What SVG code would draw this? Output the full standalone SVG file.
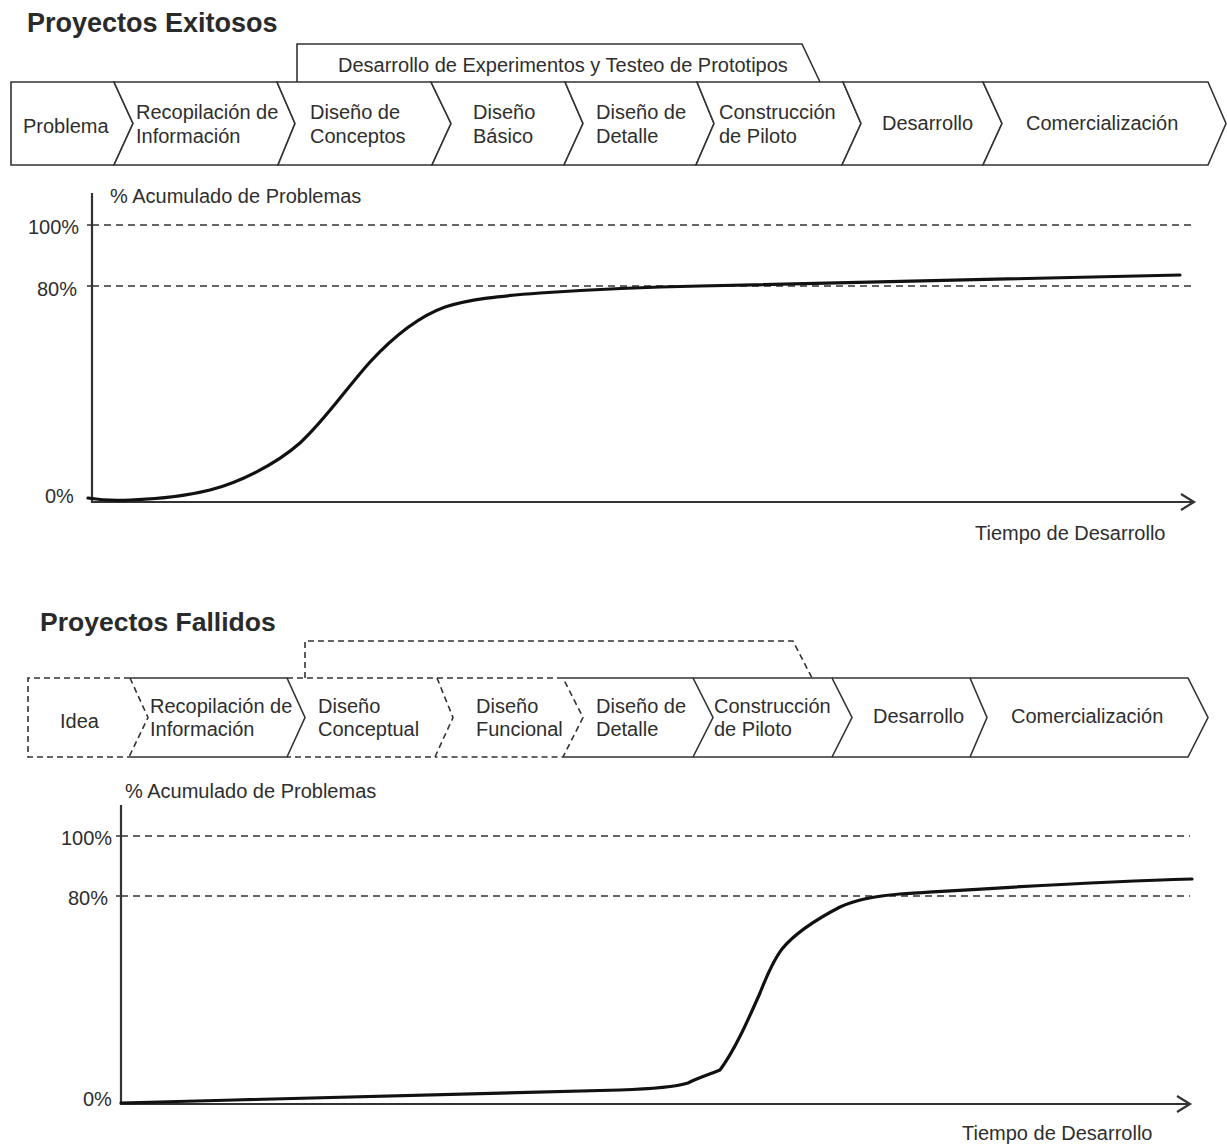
<svg xmlns="http://www.w3.org/2000/svg" width="1227" height="1145" viewBox="0 0 1227 1145">
  <style>
    text { font-family: "Liberation Sans", Arial, sans-serif; font-size: 20px; fill: #2e2e2e; }
    .title { font-size: 27px; font-weight: bold; fill: #2a2a2a; }
    .stage { fill: #fff; stroke: #333; stroke-width: 1.6; stroke-linejoin: miter; }
    .solid { fill: none; stroke: #333; stroke-width: 1.6; }
    .dash { fill: none; stroke: #333; stroke-width: 1.6; stroke-dasharray: 6 4; }
    .grid { fill: none; stroke: #333; stroke-width: 1.5; stroke-dasharray: 7 5; }
    .axis { fill: none; stroke: #333; stroke-width: 2.2; }
    .curve { fill: none; stroke: #111; stroke-width: 3.2; stroke-linecap: round; stroke-linejoin: round; }
  </style>
  <rect width="1227" height="1145" fill="#fff"/>

  <!-- ===== Successful projects ===== -->
  <text class="title" x="27" y="32">Proyectos Exitosos</text>

  <g id="tab-experimentos">
    <path class="solid" d="M297,82 L297,44 L802,44 L820,82"/>
    <text x="338" y="72">Desarrollo de Experimentos y Testeo de Prototipos</text>
  </g>

  <g id="top-problema">
    <path class="stage" d="M11,82 L114,82 L133,123.5 L114,165 L11,165 Z"/>
    <text x="23" y="133">Problema</text>
  </g>
  <g id="top-recopilacion">
    <path class="stage" d="M114,82 L277,82 L295,123.5 L278,165 L114,165 L133,123.5 Z"/>
    <text x="136" y="119">Recopilación de</text>
    <text x="136" y="143">Información</text>
  </g>
  <g id="top-conceptos">
    <path class="stage" d="M277,82 L431,82 L451,123.5 L432,165 L278,165 L295,123.5 Z"/>
    <text x="310" y="119">Diseño de</text>
    <text x="310" y="143">Conceptos</text>
  </g>
  <g id="top-basico">
    <path class="stage" d="M431,82 L565,82 L583,123.5 L564,165 L432,165 L451,123.5 Z"/>
    <text x="473" y="119">Diseño</text>
    <text x="473" y="143">Básico</text>
  </g>
  <g id="top-detalle">
    <path class="stage" d="M565,82 L697,82 L714,123.5 L696,165 L564,165 L583,123.5 Z"/>
    <text x="596" y="119">Diseño de</text>
    <text x="596" y="143">Detalle</text>
  </g>
  <g id="top-piloto">
    <path class="stage" d="M697,82 L843,82 L861,123.5 L842,165 L696,165 L714,123.5 Z"/>
    <text x="719" y="119">Construcción</text>
    <text x="719" y="143">de Piloto</text>
  </g>
  <g id="top-desarrollo">
    <path class="stage" d="M843,82 L983,82 L1002,123.5 L983,165 L842,165 L861,123.5 Z"/>
    <text x="882" y="130">Desarrollo</text>
  </g>
  <g id="top-comercializacion">
    <path class="stage" d="M983,82 L1208,82 L1226,123.5 L1208,165 L983,165 L1002,123.5 Z"/>
    <text x="1026" y="130">Comercialización</text>
  </g>

  <g id="chart-exitosos">
    <text x="110" y="203">% Acumulado de Problemas</text>
    <path class="grid" d="M92,225 H1195 M92,286 H1195"/>
    <path class="solid" d="M87,225 H92 M87,286 H92"/>
    <text x="28" y="234">100%</text>
    <text x="37" y="296">80%</text>
    <text x="45" y="503">0%</text>
    <path class="axis" d="M92,193 V502 H1193 M1181,494 L1194,502 L1181,510"/>
    <path class="curve" d="M88,498 C100,500 115,501 130,500 C160,499 182,497 210,490 C238,483 275,465 300,443 C325,420 345,390 370,362 C395,335 420,316 445,307 C470,299 500,296 540,293 C600,289 650,287 700,286 C850,283 1000,280 1180,275"/>
    <text x="975" y="540">Tiempo de Desarrollo</text>
  </g>

  <!-- ===== Failed projects ===== -->
  <text class="title" x="40" y="631" style="font-size:26.5px">Proyectos Fallidos</text>

  <g id="tab-fallidos">
    <path class="dash" d="M305,678 L305,641 L793,641 L812,678"/>
  </g>

  <g id="bot-idea">
    <path class="dash" d="M130,678 L28,678 L28,757 L129,757"/>
    <path class="dash" d="M130,678 L148,717.5 L129,757"/>
    <text x="60" y="728">Idea</text>
  </g>
  <g id="bot-recopilacion">
    <path class="solid" d="M130,678 L287,678 L305,717.5 L287,757 L129,757"/>
    <text x="150" y="713">Recopilación de</text>
    <text x="150" y="736">Información</text>
  </g>
  <g id="bot-conceptual">
    <path class="dash" d="M287,678 L437,678 L453,717.5 L435,757 L287,757"/>
    <text x="318" y="713">Diseño</text>
    <text x="318" y="736">Conceptual</text>
  </g>
  <g id="bot-funcional">
    <path class="dash" d="M437,678 L563,678 L583,717.5 L563,757 L435,757"/>
    <text x="476" y="713">Diseño</text>
    <text x="476" y="736">Funcional</text>
  </g>
  <g id="bot-detalle">
    <path class="solid" d="M563,678 L693,678 L713,717.5 L693,757 L563,757"/>
    <text x="596" y="713">Diseño de</text>
    <text x="596" y="736">Detalle</text>
  </g>
  <g id="bot-piloto">
    <path class="solid" d="M693,678 L832,678 L852,717.5 L832,757 L693,757"/>
    <text x="714" y="713">Construcción</text>
    <text x="714" y="736">de Piloto</text>
  </g>
  <g id="bot-desarrollo">
    <path class="solid" d="M832,678 L970,678 L987,717.5 L970,757 L832,757"/>
    <text x="873" y="723">Desarrollo</text>
  </g>
  <g id="bot-comercializacion">
    <path class="solid" d="M970,678 L1188,678 L1208,717.5 L1188,757 L970,757"/>
    <text x="1011" y="723">Comercialización</text>
  </g>

  <g id="chart-fallidos">
    <text x="125" y="798">% Acumulado de Problemas</text>
    <path class="grid" d="M121,836 H1190 M121,896 H1190"/>
    <path class="solid" d="M116,836 H121 M116,896 H121"/>
    <text x="61" y="845">100%</text>
    <text x="68" y="905">80%</text>
    <text x="83" y="1106">0%</text>
    <path class="axis" d="M121,805 V1104 H1189 M1177,1096 L1190,1104 L1177,1112"/>
    <path class="curve" d="M121,1103 C300,1098 500,1094 620,1090 C650,1089 675,1087 688,1083 C698,1078 708,1075 720,1070 C735,1050 748,1020 760,993 C766,978 772,962 782,949 C795,933 815,920 840,907 C855,900 875,896 900,894 C980,889 1080,882 1192,879"/>
    <text x="962" y="1140">Tiempo de Desarrollo</text>
  </g>
</svg>
